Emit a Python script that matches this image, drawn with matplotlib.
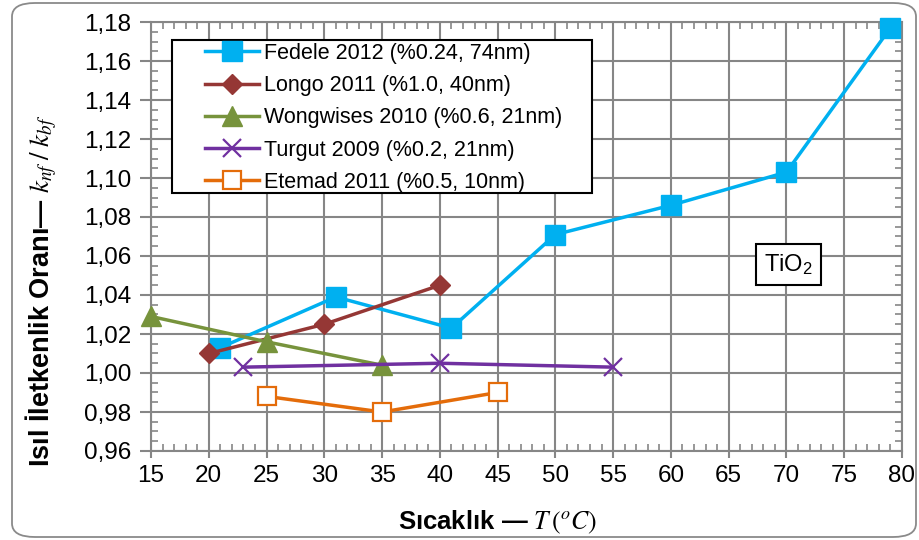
import matplotlib
matplotlib.use("Agg")
import matplotlib.pyplot as plt
from matplotlib.patches import FancyBboxPatch, Rectangle
from matplotlib.ticker import MultipleLocator, FuncFormatter

plt.rcParams['font.family'] = ['Liberation Sans', 'DejaVu Sans']
plt.rcParams['mathtext.fontset'] = 'stix'

# Thermal conductivity ratio of TiO2 nanofluids vs temperature
fedele_T = [21, 31, 41, 50, 60, 70, 79]
fedele_k = [1.013, 1.039, 1.023, 1.071, 1.086, 1.103, 1.177]

longo_T = [20, 30, 40]
longo_k = [1.010, 1.025, 1.045]

wongwises_T = [15, 25, 35]
wongwises_k = [1.029, 1.016, 1.004]

turgut_T = [23, 40, 55]
turgut_k = [1.003, 1.005, 1.003]

etemad_T = [25, 35, 45]
etemad_k = [0.988, 0.980, 0.990]

labels = ["Fedele 2012 (%0.24, 74nm)",
          "Longo 2011 (%1.0, 40nm)",
          "Wongwises 2010 (%0.6, 21nm)",
          "Turgut 2009 (%0.2, 21nm)",
          "Etemad 2011 (%0.5, 10nm)"]

W, H = 920, 540
fig = plt.figure(figsize=(W / 100, H / 100), dpi=100)
ax = fig.add_axes([151/W, 1 - 451/H, (902-151)/W, (451-22)/H])

# outer rounded frame
frame = FancyBboxPatch((12/W, 3/H), (916-12)/W, (537-3)/H,
                       boxstyle="round,pad=0,rounding_size=0.025",
                       transform=fig.transFigure, fill=False,
                       edgecolor='#8a8a8a', linewidth=1.3, zorder=0)
fig.patches.append(frame)

lw = 2.5
ax.plot(fedele_T, fedele_k, color='#00B0F0', lw=lw, marker='s', ms=14,
        mec='#00B0F0', label=labels[0], clip_on=False, zorder=5)
ax.plot(longo_T, longo_k, color='#953735', lw=lw, marker='D', ms=10.5,
        label=labels[1], clip_on=False, zorder=5)
ax.plot(wongwises_T, wongwises_k, color='#77933C', lw=lw, marker='^', ms=14,
        label=labels[2], clip_on=False, zorder=5)
ax.plot(turgut_T, turgut_k, color='#7030A0', lw=lw, marker='x', ms=13,
        mew=1.6, label=labels[3], clip_on=False, zorder=5)
ax.plot(etemad_T, etemad_k, color='#E46C0A', lw=lw, marker='s', ms=13.5,
        mfc='white', mec='#E46C0A', mew=1.6, label=labels[4],
        clip_on=False, zorder=5)

ax.set_xlim(15, 80)
ax.set_ylim(0.96, 1.18)
ax.xaxis.set_major_locator(MultipleLocator(5))
ax.xaxis.set_minor_locator(MultipleLocator(1))
ax.yaxis.set_major_locator(MultipleLocator(0.02))
ax.yaxis.set_minor_locator(MultipleLocator(0.005))
ax.yaxis.set_major_formatter(FuncFormatter(lambda v, p: f"{v:.2f}".replace('.', ',')))

gray = '#868686'
ax.grid(True, which='major', color=gray, lw=1.5)
for s in ax.spines.values():
    s.set_color(gray)
    s.set_linewidth(1.5)

ax.tick_params(which='major', axis='both', labelsize=17.5, color=gray, width=1.5)
ax.tick_params(which='major', axis='y', direction='out', length=8, pad=6)
ax.tick_params(which='major', axis='x', direction='out', length=5, pad=5)
ax.tick_params(which='minor', direction='in', length=5, color=gray, width=1.2,
               top=True, right=True)

ax.set_xlabel(r"Sıcaklık — $T\,(^oC)$", fontsize=18.5, fontweight='bold')
ax.xaxis.set_label_coords(0.462, -0.135)
ax.set_ylabel(r"Isıl İletkenlik Oranı— $k_{nf}\;/\;k_{bf}$", fontsize=19.5,
              fontweight='bold')
ax.yaxis.set_label_coords(-0.122, 0.373)

# legend box with the entries placed inside it
box = Rectangle(((172-151)/751, (451-193)/429), (592-172)/751, (193-40)/429,
                transform=ax.transAxes, fc='white', ec='black', lw=1.5,
                zorder=9, clip_on=False)
ax.add_patch(box)

leg = ax.legend(loc='upper left', bbox_to_anchor=((205-151)/751, (451-43)/429),
                fontsize=15.5, frameon=False, handlelength=2.5,
                handletextpad=0.25, borderpad=0, labelspacing=0.52,
                borderaxespad=0)
leg.set_zorder(10)

ax.text(70.2, 1.0555, r"Ti$\mathregular{O_2}$", fontsize=17, ha='center',
        va='center',
        bbox=dict(boxstyle='square,pad=0.35', fc='white', ec='black', lw=1.5),
        zorder=6)

fig.savefig("out.png", dpi=100)
